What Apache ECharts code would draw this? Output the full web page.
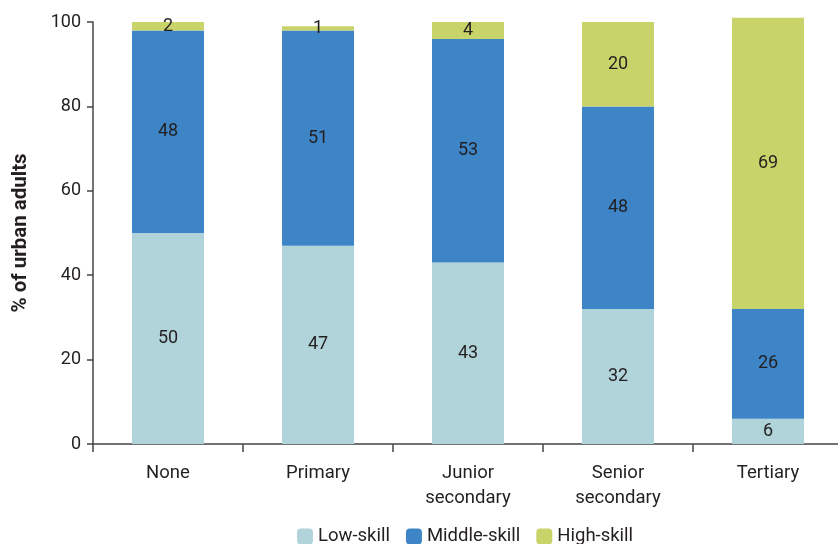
<!DOCTYPE html>
<html><head><meta charset="utf-8">
<script src="https://cdn.jsdelivr.net/npm/echarts@6/dist/echarts.min.js"></script>
<style>html,body{margin:0;padding:0;background:#fff;overflow:hidden}#c{width:844px;height:544px}</style>
</head><body><div id="c"></div>
<script>
const categories = ['None', 'Primary', 'Junior\nsecondary', 'Senior\nsecondary', 'Tertiary'];
const lowSkill = [50, 47, 43, 32, 6];
const middleSkill = [48, 51, 53, 48, 26];
const highSkill = [2, 1, 4, 20, 69];
const yTicks = [0, 20, 40, 60, 80, 100];

const font = 'Roboto';
const txt = '#231f20';
const chart = echarts.init(document.getElementById('c'));
const lab = {show: true, position: 'inside', color: txt, fontSize: 18, fontFamily: font};
chart.setOption({
  animation: false,
  grid: {left: 93, right: 1, top: 22, bottom: 100, containLabel: false},
  legend: {
    top: 522, left: 292, itemWidth: 16, itemHeight: 16, itemGap: 16,
    textStyle: {fontSize: 18.5, fontFamily: font, color: txt},
    data: ['Low-skill', 'Middle-skill', 'High-skill']
  },
  xAxis: {
    type: 'category', data: categories,
    axisLine: {lineStyle: {color: '#444', width: 1.5}},
    axisTick: {show: true, length: 8, lineStyle: {color: '#444', width: 1.5}},
    axisLabel: {fontSize: 18.5, fontFamily: font, color: txt, margin: 17, lineHeight: 25}
  },
  yAxis: {
    type: 'value', min: 0, max: 100, interval: 20,
    name: '% of urban adults', nameLocation: 'middle', nameGap: 62,
    nameTextStyle: {fontSize: 20.5, fontWeight: 'bold', fontFamily: font, color: txt},
    axisLine: {show: true, lineStyle: {color: '#444', width: 1.5}},
    axisTick: {show: true, length: 6, lineStyle: {color: '#444', width: 1.5}},
    splitLine: {show: false},
    axisLabel: {fontSize: 18, fontFamily: font, color: txt, margin: 12,
      formatter: v => yTicks.includes(v) ? String(v) : ''}
  },
  series: [
    {name: 'Low-skill', type: 'bar', stack: 's', data: lowSkill, barWidth: 72, clip: false,
     itemStyle: {color: '#b0d4da'}, label: lab},
    {name: 'Middle-skill', type: 'bar', stack: 's', data: middleSkill, barWidth: 72, clip: false,
     itemStyle: {color: '#3d85c6'}, label: lab},
    {name: 'High-skill', type: 'bar', stack: 's', data: highSkill, barWidth: 72, clip: false,
     itemStyle: {color: '#c8d46a'}, label: lab}
  ]
});
</script></body></html>
